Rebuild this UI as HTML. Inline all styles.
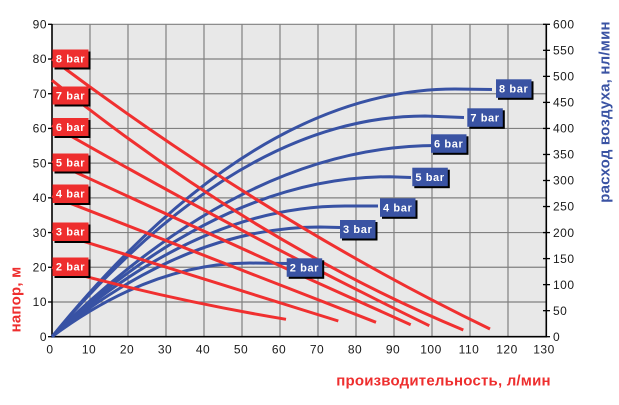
<!DOCTYPE html>
<html>
<head>
<meta charset="utf-8">
<style>
  html, body { margin: 0; padding: 0; background: #ffffff; }
  svg { display: block; }
  .tick { font-family: "Liberation Sans", "DejaVu Sans", sans-serif; font-size: 12px; fill: #1a1a1a; letter-spacing: 0.5px; }
  .lbl { font-family: "Liberation Sans", "DejaVu Sans", sans-serif; font-size: 11px; font-weight: bold; fill: #ffffff; letter-spacing: 0.6px; }
  .ttl { font-family: "Liberation Sans", "DejaVu Sans", sans-serif; font-size: 15px; font-weight: bold; letter-spacing: 0.2px; }
</style>
</head>
<body>
<svg width="619" height="405" viewBox="0 0 619 405" xmlns="http://www.w3.org/2000/svg">
  <rect x="0" y="0" width="619" height="405" fill="#ffffff"/>
  <rect x="52" y="24.3" width="494" height="312.4" fill="#e8e8e8"/>

  <g stroke="#808080" stroke-width="1.2" fill="none">
    <line x1="90" y1="24.3" x2="90" y2="336.7"/>
    <line x1="128" y1="24.3" x2="128" y2="336.7"/>
    <line x1="166" y1="24.3" x2="166" y2="336.7"/>
    <line x1="204" y1="24.3" x2="204" y2="336.7"/>
    <line x1="242" y1="24.3" x2="242" y2="336.7"/>
    <line x1="280" y1="24.3" x2="280" y2="336.7"/>
    <line x1="318" y1="24.3" x2="318" y2="336.7"/>
    <line x1="356" y1="24.3" x2="356" y2="336.7"/>
    <line x1="394" y1="24.3" x2="394" y2="336.7"/>
    <line x1="432" y1="24.3" x2="432" y2="336.7"/>
    <line x1="470" y1="24.3" x2="470" y2="336.7"/>
    <line x1="508" y1="24.3" x2="508" y2="336.7"/>
    <line x1="52" y1="301.99" x2="546" y2="301.99"/>
    <line x1="52" y1="267.28" x2="546" y2="267.28"/>
    <line x1="52" y1="232.57" x2="546" y2="232.57"/>
    <line x1="52" y1="197.86" x2="546" y2="197.86"/>
    <line x1="52" y1="163.15" x2="546" y2="163.15"/>
    <line x1="52" y1="128.44" x2="546" y2="128.44"/>
    <line x1="52" y1="93.73" x2="546" y2="93.73"/>
    <line x1="52" y1="59.02" x2="546" y2="59.02"/>
    <line x1="52" y1="24.3" x2="546" y2="24.3"/>
  </g>

  <g stroke="#000000" stroke-width="1.6" fill="none">
    <line x1="52" y1="24" x2="52" y2="337.5"/>
    <line x1="51.2" y1="336.7" x2="547" y2="336.7"/>
    <line x1="546.3" y1="24" x2="546.3" y2="337.5"/>
  </g>
  <g stroke="#000000" stroke-width="1.3">
    <line x1="48" y1="336.7" x2="52" y2="336.7"/>
    <line x1="48" y1="301.99" x2="52" y2="301.99"/>
    <line x1="48" y1="267.28" x2="52" y2="267.28"/>
    <line x1="48" y1="232.57" x2="52" y2="232.57"/>
    <line x1="48" y1="197.86" x2="52" y2="197.86"/>
    <line x1="48" y1="163.15" x2="52" y2="163.15"/>
    <line x1="48" y1="128.44" x2="52" y2="128.44"/>
    <line x1="48" y1="93.73" x2="52" y2="93.73"/>
    <line x1="48" y1="59.02" x2="52" y2="59.02"/>
    <line x1="48" y1="24.3" x2="52" y2="24.3"/>
  </g>
  <g stroke="#000000" stroke-width="1.3">
    <line x1="543" y1="336.7" x2="550" y2="336.7"/>
    <line x1="543" y1="310.67" x2="550" y2="310.67"/>
    <line x1="543" y1="284.63" x2="550" y2="284.63"/>
    <line x1="543" y1="258.6" x2="550" y2="258.6"/>
    <line x1="543" y1="232.57" x2="550" y2="232.57"/>
    <line x1="543" y1="206.53" x2="550" y2="206.53"/>
    <line x1="543" y1="180.5" x2="550" y2="180.5"/>
    <line x1="543" y1="154.47" x2="550" y2="154.47"/>
    <line x1="543" y1="128.44" x2="550" y2="128.44"/>
    <line x1="543" y1="102.4" x2="550" y2="102.4"/>
    <line x1="543" y1="76.37" x2="550" y2="76.37"/>
    <line x1="543" y1="50.33" x2="550" y2="50.33"/>
    <line x1="543" y1="24.3" x2="550" y2="24.3"/>
  </g>

  <g class="tick" text-anchor="end">
    <text x="47" y="340.9">0</text>
    <text x="47" y="306.2">10</text>
    <text x="47" y="271.5">20</text>
    <text x="47" y="236.8">30</text>
    <text x="47" y="202.1">40</text>
    <text x="47" y="167.4">50</text>
    <text x="47" y="132.6">60</text>
    <text x="47" y="97.9">70</text>
    <text x="47" y="63.2">80</text>
    <text x="47" y="28.5">90</text>
  </g>
  <g class="tick" text-anchor="middle">
    <text x="50" y="353.5">0</text>
    <text x="89" y="353.5">10</text>
    <text x="127" y="353.5">20</text>
    <text x="165" y="353.5">30</text>
    <text x="203" y="353.5">40</text>
    <text x="241" y="353.5">50</text>
    <text x="279" y="353.5">60</text>
    <text x="317" y="353.5">70</text>
    <text x="355" y="353.5">80</text>
    <text x="393" y="353.5">90</text>
    <text x="431" y="353.5">100</text>
    <text x="469" y="353.5">110</text>
    <text x="507" y="353.5">120</text>
    <text x="544" y="353.5">130</text>
  </g>
  <g class="tick" text-anchor="start">
    <text x="553" y="340.9">0</text>
    <text x="553" y="314.9">50</text>
    <text x="553" y="288.8">100</text>
    <text x="553" y="262.8">150</text>
    <text x="553" y="236.8">200</text>
    <text x="553" y="210.7">250</text>
    <text x="553" y="184.7">300</text>
    <text x="553" y="158.7">350</text>
    <text x="553" y="132.6">400</text>
    <text x="553" y="106.6">450</text>
    <text x="553" y="80.6">500</text>
    <text x="553" y="54.5">550</text>
    <text x="553" y="28.5">600</text>
  </g>

  <g stroke="#3852a4" stroke-width="3" fill="none" stroke-linejoin="round">
    <path d="M52,336.7 Q253.5,89 455,89 L492,89.5"/>
    <path d="M52,336.7 Q238.5,116 425,116 L464,117.5"/>
    <path d="M52,336.7 Q244.5,145.5 437,145.5"/>
    <path d="M52,336.7 Q221,176.7 390,176.7 L411,177.5"/>
    <path d="M52,336.7 Q198.5,206 345,206 L378,206"/>
    <path d="M52,336.7 Q186,227 320,227 L340,227.5"/>
    <path d="M52,336.7 Q151,263 250,263 L287,263.5"/>
  </g>

  <g stroke="#f03030" stroke-width="3" fill="none">
    <path d="M52,59 Q271,223 490,329"/>
    <path d="M52,80.3 Q257.7,244.7 463.3,330"/>
    <path d="M52,125.3 Q240.7,233.7 429.3,325.7"/>
    <path d="M52,161.3 Q231.4,244.4 410.7,324.7"/>
    <path d="M52,196.2 L376,322.3"/>
    <path d="M52,231.5 L338.3,321"/>
    <path d="M52,267.4 Q169,299.9 286,319.3"/>
  </g>

  <g>
    <rect x="54.5" y="51.5" width="36" height="18" fill="#000"/>
    <rect x="52.5" y="49.5" width="36" height="18" fill="#ee2e2e"/>
    <text class="lbl" x="70.5" y="62.5" text-anchor="middle">8 bar</text>

    <rect x="54.5" y="88.5" width="36" height="18" fill="#000"/>
    <rect x="52.5" y="86.5" width="36" height="18" fill="#ee2e2e"/>
    <text class="lbl" x="70.5" y="99.5" text-anchor="middle">7 bar</text>

    <rect x="54.5" y="120" width="36" height="18" fill="#000"/>
    <rect x="52.5" y="118" width="36" height="18" fill="#ee2e2e"/>
    <text class="lbl" x="70.5" y="131" text-anchor="middle">6 bar</text>

    <rect x="54.5" y="155.5" width="36" height="18" fill="#000"/>
    <rect x="52.5" y="153.5" width="36" height="18" fill="#ee2e2e"/>
    <text class="lbl" x="70.5" y="166.5" text-anchor="middle">5 bar</text>

    <rect x="54.5" y="186.5" width="36" height="18.5" fill="#000"/>
    <rect x="52.5" y="184.5" width="36" height="18.5" fill="#ee2e2e"/>
    <text class="lbl" x="70.5" y="197.5" text-anchor="middle">4 bar</text>

    <rect x="54.5" y="224.5" width="36" height="18.5" fill="#000"/>
    <rect x="52.5" y="222.5" width="36" height="18.5" fill="#ee2e2e"/>
    <text class="lbl" x="70.5" y="235.5" text-anchor="middle">3 bar</text>

    <rect x="54.5" y="259.5" width="36" height="18.5" fill="#000"/>
    <rect x="52.5" y="257.5" width="36" height="18.5" fill="#ee2e2e"/>
    <text class="lbl" x="70.5" y="270.5" text-anchor="middle">2 bar</text>
  </g>

  <g>
    <rect x="498" y="81.3" width="35.5" height="18.5" fill="#000"/>
    <rect x="496" y="79.3" width="35.5" height="18.5" fill="#3a53a3"/>
    <text class="lbl" x="513.7" y="92.5" text-anchor="middle">8 bar</text>

    <rect x="469.3" y="110.3" width="35.5" height="18.5" fill="#000"/>
    <rect x="467.3" y="108.3" width="35.5" height="18.5" fill="#3a53a3"/>
    <text class="lbl" x="485" y="121.5" text-anchor="middle">7 bar</text>

    <rect x="433" y="136.3" width="35.5" height="18.5" fill="#000"/>
    <rect x="431" y="134.3" width="35.5" height="18.5" fill="#3a53a3"/>
    <text class="lbl" x="448.7" y="147.5" text-anchor="middle">6 bar</text>

    <rect x="414.3" y="169.7" width="35.5" height="18.5" fill="#000"/>
    <rect x="412.3" y="167.7" width="35.5" height="18.5" fill="#3a53a3"/>
    <text class="lbl" x="430" y="180.9" text-anchor="middle">5 bar</text>

    <rect x="382" y="200.3" width="35.5" height="18.5" fill="#000"/>
    <rect x="380" y="198.3" width="35.5" height="18.5" fill="#3a53a3"/>
    <text class="lbl" x="397.7" y="211.5" text-anchor="middle">4 bar</text>

    <rect x="342" y="222" width="35.5" height="18.5" fill="#000"/>
    <rect x="340" y="220" width="35.5" height="18.5" fill="#3a53a3"/>
    <text class="lbl" x="357.7" y="233.2" text-anchor="middle">3 bar</text>

    <rect x="288.7" y="260.3" width="35.5" height="18.5" fill="#000"/>
    <rect x="286.7" y="258.3" width="35.5" height="18.5" fill="#3a53a3"/>
    <text class="lbl" x="304.4" y="271.5" text-anchor="middle">2 bar</text>
  </g>

  <text class="ttl" fill="#ee2e2e" text-anchor="middle" transform="translate(20.5,299.5) rotate(-90)">напор, м</text>
  <text class="ttl" fill="#3a53a3" text-anchor="middle" transform="translate(609.5,112) rotate(-90)">расход воздуха, нл/мин</text>
  <text class="ttl" fill="#ee2e2e" text-anchor="middle" x="443.5" y="385.5">производительность, л/мин</text>
</svg>
</body>
</html>
